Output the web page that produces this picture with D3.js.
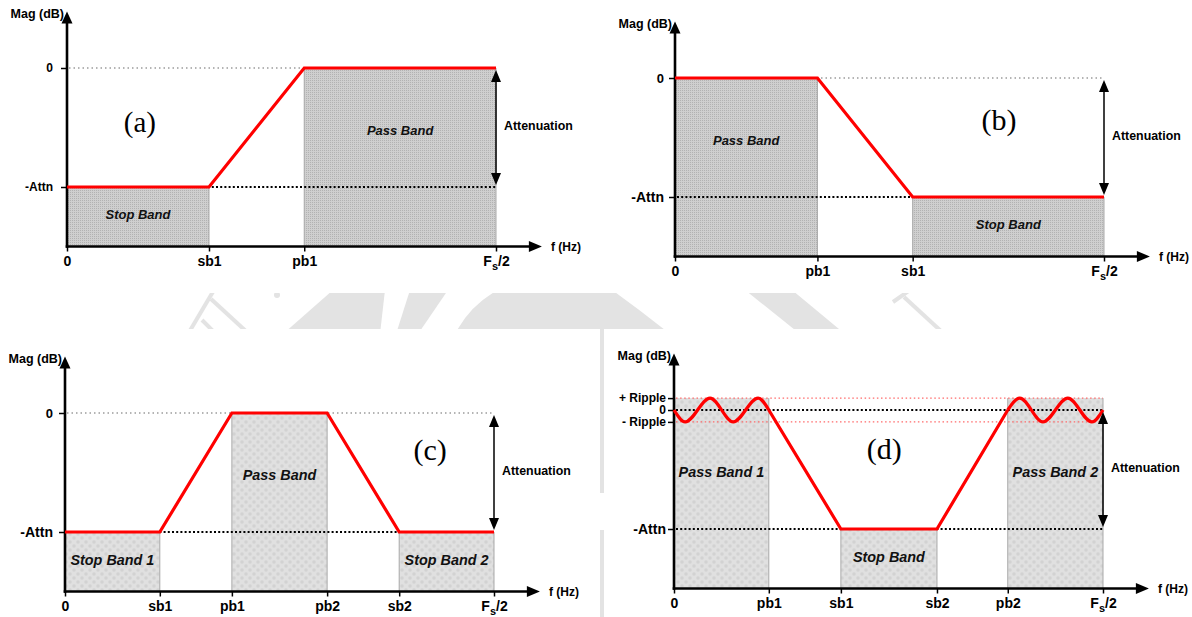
<!DOCTYPE html>
<html>
<head>
<meta charset="utf-8">
<script src="https://cdn.jsdelivr.net/npm/d3@7"></script>
<style>
  body { margin: 0; background: #fff; }
  svg { display: block; }
</style>
</head>
<body>
<svg id="fig" width="1192" height="617"></svg>
<script>
// Frequency is given as a fraction of Fs/2, magnitude in dB (Attn = 40 dB, ripple = 4 dB).

// (a) high-pass
const ticksA = ["0", "sb1", "pb1", "Fs/2"];
const freqA  = [0, 0.331, 0.553, 1];
const magA   = [-40, -40, 0, 0];
const bandsA = [["Stop Band", 0, 0.331, -40], ["Pass Band", 0.553, 1, 0]];

// (b) low-pass
const ticksB = ["0", "pb1", "sb1", "Fs/2"];
const freqB  = [0, 0.332, 0.554, 1];
const magB   = [0, 0, -40, -40];
const bandsB = [["Pass Band", 0, 0.332, 0], ["Stop Band", 0.554, 1, -40]];

// (c) band-pass
const ticksC = ["0", "sb1", "pb1", "pb2", "sb2", "Fs/2"];
const freqC  = [0, 0.221, 0.389, 0.611, 0.779, 1];
const magC   = [-40, -40, 0, 0, -40, -40];
const bandsC = [["Stop Band 1", 0, 0.221, -40], ["Pass Band", 0.389, 0.611, 0], ["Stop Band 2", 0.779, 1, -40]];

// (d) band-stop with pass-band ripple
const ticksD = ["0", "pb1", "sb1", "sb2", "pb2", "Fs/2"];
const freqD  = [0, 0.221, 0.389, 0.613, 0.778, 1];
const rippleFreqD1 = [0, 0.026, 0.084, 0.138, 0.196, 0.221];
const rippleMagD1  = [0, -4, 4, -4, 4, 0];
const slopeFreqD   = [0.221, 0.389, 0.613, 0.778];
const slopeMagD    = [0, -40, -40, 0];
const rippleFreqD2 = [0.778, 0.806, 0.860, 0.918, 0.974, 1];
const rippleMagD2  = [0, 4, -4, 4, -4, 0];
const bandsD = [["Pass Band 1", 0, 0.221, 4], ["Stop Band", 0.389, 0.613, -40], ["Pass Band 2", 0.778, 1, 4]];

// magnitude-axis ticks
const yTicksStd  = [0, -40];
const yNamesStd  = ["0", "-Attn"];
const yTicksD    = [4, 0, -4, -40];
const yNamesD    = ["+ Ripple", "0", "- Ripple", "-Attn"];

const SANS  = "'Liberation Sans', Arial, Helvetica, sans-serif";
const SERIF = "'Liberation Serif', 'Times New Roman', serif";
const RED = "#ff0000";

const svg = d3.select("#fig");
const defs = svg.append("defs");

// fine dot screen (upper diagrams)
const scrA = defs.append("pattern").attr("id", "screenFine")
  .attr("width", 2).attr("height", 2).attr("patternUnits", "userSpaceOnUse");
scrA.append("rect").attr("width", 2).attr("height", 2).attr("fill", "#cfcfcf");
scrA.append("rect").attr("width", 1).attr("height", 1).attr("fill", "#b2b2b2");

// softer mottled screen (lower diagrams)
const scrB = defs.append("pattern").attr("id", "screenSoft")
  .attr("width", 8).attr("height", 8).attr("patternUnits", "userSpaceOnUse");
scrB.append("rect").attr("width", 8).attr("height", 8).attr("fill", "#e0e0e0");
scrB.append("circle").attr("cx", 2).attr("cy", 2).attr("r", 1.7).attr("fill", "#d2d2d2");
scrB.append("circle").attr("cx", 6).attr("cy", 6).attr("r", 1.7).attr("fill", "#d2d2d2");

// faint watermark showing through the gaps between the diagrams
defs.append("clipPath").attr("id", "gapClip")
  .append("rect").attr("x", 0).attr("y", 293).attr("width", 1192).attr("height", 36);
const wm = svg.append("g").attr("clip-path", "url(#gapClip)")
  .attr("fill", "#e3e3e3").attr("stroke", "#e3e3e3");
[
  "M188,334 L214,290", "M211,299 L249,334", "M202,320 L214,332", "M893,302 L910,290", "M904,297 L942,332"
].forEach(d => wm.append("path").attr("d", d).attr("fill", "none").attr("stroke-width", 4));
wm.append("circle").attr("cx", 277).attr("cy", 295).attr("r", 3).attr("stroke", "none");
[
  "M283,334 L333,290 L385,290 L380,334 Z",
  "M396,334 L410,290 L448,290 L418,334 Z",
  "M455,334 Q470,305 498,290 L612,290 Q640,310 670,334 Z",
  "M745,290 L792,290 L845,334 L800,334 Z"
].forEach(d => wm.append("path").attr("d", d).attr("stroke", "none"));
svg.append("rect").attr("x", 600).attr("y", 329).attr("width", 4).attr("height", 164).attr("fill", "#e3e3e3");
svg.append("rect").attr("x", 600).attr("y", 530).attr("width", 4).attr("height", 87).attr("fill", "#e3e3e3");

// panel layout
const panels = [
  { letter: "(a)", x0: 67, yZero: 68, ticks: ticksA, freq: freqA,
    curves: [[freqA, magA, d3.curveLinear]], bands: bandsA, screen: "screenFine",
    yTicks: yTicksStd, yNames: yNamesStd, yFont: [12, 12], yPad: 8,
    refs: [[0, "gray"], [-40, "black"]], letterAt: [0.17, -18], letterSize: 29, bandFont: 13 },
  { letter: "(b)", x0: 675, yZero: 78, ticks: ticksB, freq: freqB,
    curves: [[freqB, magB, d3.curveLinear]], bands: bandsB, screen: "screenFine",
    yTicks: yTicksStd, yNames: yNamesStd, yFont: [13, 14], yPad: 5,
    refs: [[0, "gray"], [-40, "black"]], letterAt: [0.755, -14], letterSize: 30, bandFont: 13 },
  { letter: "(c)", x0: 65, yZero: 413, ticks: ticksC, freq: freqC,
    curves: [[freqC, magC, d3.curveLinear]], bands: bandsC, screen: "screenSoft",
    yTicks: yTicksStd, yNames: yNamesStd, yFont: [13, 14], yPad: 6,
    refs: [[0, "gray"], [-40, "black"]], letterAt: [0.851, -12.4], letterSize: 30, bandFont: 14.4 },
  { letter: "(d)", x0: 674, yZero: 410, ticks: ticksD, freq: freqD,
    curves: [[rippleFreqD1, rippleMagD1, d3.curveMonotoneX],
             [slopeFreqD, slopeMagD, d3.curveLinear],
             [rippleFreqD2, rippleMagD2, d3.curveMonotoneX]],
    bands: bandsD, screen: "screenSoft",
    yTicks: yTicksD, yNames: yNamesD, yFont: [12, 12, 12, 14], yPad: 2,
    refs: [[4, "red"], [-4, "red"], [0, "black"], [-40, "black"]], letterAt: [0.49, -12.8], letterSize: 30, bandFont: 14.4 }
];

const refStyle = {
  gray:  { stroke: "#9c9c9c", width: 1.3, dash: "1.5,3" },
  black: { stroke: "#000000", width: 2,   dash: "2,2.2" },
  red:   { stroke: "#ff6a6a", width: 1.3, dash: "1.5,2.6" }
};

function drawPanel(P) {
  const g = svg.append("g");
  const x = d3.scaleLinear().domain([0, 1]).range([P.x0, P.x0 + 429]);
  const y = d3.scaleLinear().domain([-60, 0]).range([P.yZero + 178.5, P.yZero]);
  const yBase = y(-60);

  // shaded pass / stop bands
  P.bands.forEach(([name, f0, f1, top]) => {
    g.append("rect")
      .attr("x", x(f0)).attr("y", y(top))
      .attr("width", x(f1) - x(f0)).attr("height", yBase - y(top))
      .attr("fill", `url(#${P.screen})`);
    [f0, f1].filter(f => f > 0).forEach(f => {
      g.append("line")
        .attr("x1", x(f)).attr("x2", x(f)).attr("y1", y(top)).attr("y2", yBase)
        .attr("stroke", "#a9a9a9").attr("stroke-width", 1);
    });
  });

  // reference levels
  P.refs.forEach(([db, kind]) => {
    const s = refStyle[kind];
    g.append("line")
      .attr("x1", x(0) + 2).attr("x2", x(1)).attr("y1", y(db)).attr("y2", y(db))
      .attr("stroke", s.stroke).attr("stroke-width", s.width).attr("stroke-dasharray", s.dash);
  });

  // band names
  P.bands.forEach(([name, f0, f1]) => {
    const db = name.startsWith("Pass") ? -21 : -49.4;
    g.append("text")
      .attr("x", x((f0 + f1) / 2)).attr("y", y(db))
      .attr("text-anchor", "middle").attr("dominant-baseline", "central")
      .attr("font-family", SANS).attr("font-weight", "bold").attr("font-style", "italic")
      .attr("font-size", P.bandFont).attr("fill", "#111")
      .text(name);
  });

  // frequency axis ticks and labels
  const gx = g.append("g").attr("transform", `translate(0,${yBase})`)
    .call(d3.axisBottom(x).tickValues(P.freq).tickFormat((d, i) => P.ticks[i])
      .tickSize(5).tickPadding(5));
  gx.select(".domain").remove();
  gx.attr("font-family", SANS).attr("font-size", 14);
  gx.selectAll(".tick line").attr("stroke", "#000").attr("stroke-width", 1.5);
  gx.selectAll(".tick text").attr("font-weight", "bold").attr("fill", "#000")
    .each(function (d, i) {
      if (P.ticks[i] === "Fs/2") {
        const t = d3.select(this).text("");
        t.append("tspan").text("F");
        t.append("tspan").attr("dy", 4).attr("font-size", 11).text("s");
        t.append("tspan").attr("dy", -4).text("/2");
      }
    });

  // magnitude axis ticks and labels
  const gy = g.append("g").attr("transform", `translate(${P.x0},0)`)
    .call(d3.axisLeft(y).tickValues(P.yTicks).tickFormat((d, i) => P.yNames[i])
      .tickSize(6).tickPadding(P.yPad));
  gy.select(".domain").remove();
  gy.attr("font-family", SANS);
  gy.selectAll(".tick line").attr("stroke", "#000").attr("stroke-width", 1.5);
  gy.selectAll(".tick text").attr("font-weight", "bold").attr("fill", "#000")
    .attr("font-size", (d, i) => P.yFont[i]);

  // axis lines with arrow heads
  const yTip = y(19), xTip = x(1.107);
  g.append("line").attr("x1", P.x0).attr("x2", P.x0).attr("y1", yBase).attr("y2", yTip + 10)
    .attr("stroke", "#000").attr("stroke-width", 2.6).attr("stroke-linecap", "square");
  g.append("line").attr("x1", P.x0).attr("x2", xTip - 10).attr("y1", yBase).attr("y2", yBase)
    .attr("stroke", "#000").attr("stroke-width", 2.6).attr("stroke-linecap", "square");
  g.append("path").attr("d", `M${P.x0},${yTip} L${P.x0 + 5.5},${yTip + 12} L${P.x0 - 5.5},${yTip + 12} Z`).attr("fill", "#000");
  g.append("path").attr("d", `M${xTip},${yBase} L${xTip - 13},${yBase - 5.5} L${xTip - 13},${yBase + 5.5} Z`).attr("fill", "#000");

  // axis titles
  g.append("text").attr("x", P.x0 - 3).attr("y", yTip + 7).attr("text-anchor", "end")
    .attr("font-family", SANS).attr("font-weight", "bold").attr("font-size", 12.5).text("Mag (dB)");
  g.append("text").attr("x", xTip + 9).attr("y", yBase).attr("dominant-baseline", "central")
    .attr("font-family", SANS).attr("font-weight", "bold").attr("font-size", 12).text("f (Hz)");

  // magnitude response
  P.curves.forEach(([fs, ms, curve]) => {
    const line = d3.line().x(d => x(d[0])).y(d => y(d[1])).curve(curve);
    g.append("path").attr("d", line(d3.zip(fs, ms)))
      .attr("fill", "none").attr("stroke", RED).attr("stroke-width", 3.2)
      .attr("stroke-linejoin", "miter").attr("stroke-linecap", "butt");
  });

  // attenuation arrow
  const xa = x(1), ya0 = y(0) + 2, ya1 = y(-40) - 2;
  g.append("line").attr("x1", xa).attr("x2", xa).attr("y1", ya0 + 10).attr("y2", ya1 - 10)
    .attr("stroke", "#000").attr("stroke-width", 1.5);
  g.append("path").attr("d", `M${xa},${ya0} L${xa + 5},${ya0 + 12} L${xa - 5},${ya0 + 12} Z`).attr("fill", "#000");
  g.append("path").attr("d", `M${xa},${ya1} L${xa + 5},${ya1 - 12} L${xa - 5},${ya1 - 12} Z`).attr("fill", "#000");
  g.append("text").attr("x", xa + 8).attr("y", (y(0) + y(-40)) / 2 - 2).attr("dominant-baseline", "central")
    .attr("font-family", SANS).attr("font-weight", "bold").attr("font-size", 12.4).text("Attenuation");

  // diagram letter
  g.append("text").attr("x", x(P.letterAt[0])).attr("y", y(P.letterAt[1]))
    .attr("text-anchor", "middle").attr("dominant-baseline", "central")
    .attr("font-family", SERIF).attr("font-size", P.letterSize).text(P.letter);
}

panels.forEach(drawPanel);
</script>
</body>
</html>
